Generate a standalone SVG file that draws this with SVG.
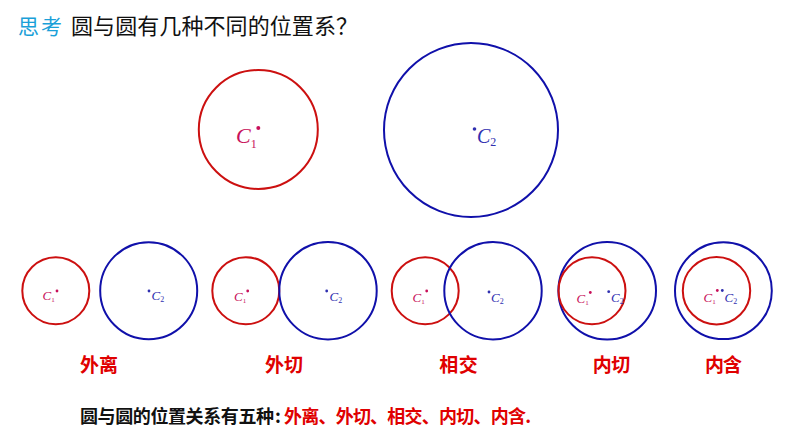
<svg xmlns="http://www.w3.org/2000/svg" width="794" height="447" viewBox="0 0 794 447">
<style>
.r{fill:none;stroke:#cc1010;stroke-width:2}
.b{fill:none;stroke:#1010aa;stroke-width:2}
.c1{fill:#c8105a;font-family:"Liberation Serif",serif;font-style:italic}
.c2{fill:#3030b0;font-family:"Liberation Serif",serif;font-style:italic}
.sub{font-style:normal}
.d1{fill:#c8105a}
.d2{fill:#3030b0}
.lab{fill:#e00000;font-family:"Noto Sans CJK SC",sans-serif;font-weight:bold;font-size:19px}
.cjk{font-family:"Noto Sans CJK SC",sans-serif}
</style>
<rect width="794" height="447" fill="#ffffff"/>
<g id="title">
<text x="18" y="33.5" class="cjk" font-size="21" fill="#1aa0d8" textLength="44">思考</text>
<text x="71" y="33.5" class="cjk" font-size="22" fill="#111111" textLength="287">圆与圆有几种不同的位置系？</text>
</g>
<g id="top-c1">
<circle class="r" cx="258.3" cy="129.5" r="59.5"/>
<circle class="d1" cx="258.3" cy="128" r="2"/>
<text class="c1" x="236" y="143" font-size="22">C<tspan class="sub" font-size="12" dy="5">1</tspan></text>
</g>
<g id="top-c2">
<circle class="b" cx="471" cy="130" r="87"/>
<circle class="d2" cx="474.5" cy="129" r="1.8"/>
<text class="c2" x="477" y="143" font-size="20">C<tspan class="sub" font-size="12" dy="3">2</tspan></text>
</g>
<g id="waili">
<circle class="r" cx="55.8" cy="290.7" r="33.5"/>
<circle class="b" cx="148.7" cy="290.7" r="48.5"/>
<circle class="d1" cx="57" cy="291" r="1.4"/>
<circle class="d2" cx="149" cy="291" r="1.4"/>
<text class="c1" x="42.5" y="300" font-size="13">C<tspan class="sub" font-size="7" dy="2">1</tspan></text>
<text class="c2" x="151.5" y="300" font-size="13">C<tspan class="sub" font-size="8" dy="2">2</tspan></text>
<text class="lab" x="80" y="372" textLength="38">外离</text>
</g>
<g id="waiqie">
<circle class="r" cx="245.8" cy="290.7" r="33.5"/>
<circle class="b" cx="328" cy="290.7" r="48.7"/>
<circle class="d1" cx="247.7" cy="291" r="1.4"/>
<circle class="d2" cx="326.7" cy="291" r="1.4"/>
<text class="c1" x="234" y="301" font-size="13">C<tspan class="sub" font-size="7" dy="2">1</tspan></text>
<text class="c2" x="329.5" y="301" font-size="13">C<tspan class="sub" font-size="8" dy="2">2</tspan></text>
<text class="lab" x="265" y="372" textLength="38">外切</text>
</g>
<g id="xiangjiao">
<circle class="r" cx="425.2" cy="290.7" r="33.5"/>
<circle class="b" cx="493" cy="290.7" r="48.7"/>
<circle class="d1" cx="426.7" cy="291" r="1.4"/>
<circle class="d2" cx="489" cy="292" r="1.4"/>
<text class="c1" x="412.5" y="301.5" font-size="13">C<tspan class="sub" font-size="7" dy="2">1</tspan></text>
<text class="c2" x="491" y="302" font-size="13">C<tspan class="sub" font-size="8" dy="2">2</tspan></text>
<text class="lab" x="439.3" y="372" textLength="38.4">相交</text>
</g>
<g id="neiqie">
<circle class="b" cx="607.2" cy="290.7" r="48.8"/>
<circle class="r" cx="592" cy="290.7" r="33.5"/>
<circle class="d1" cx="590.3" cy="292.5" r="1.4"/>
<circle class="d2" cx="608.7" cy="291.7" r="1.4"/>
<text class="c1" x="576.5" y="303" font-size="13">C<tspan class="sub" font-size="7" dy="2">1</tspan></text>
<text class="c2" x="611" y="302" font-size="13">C<tspan class="sub" font-size="8" dy="2">2</tspan></text>
<text class="lab" x="592.7" y="372" textLength="37.5">内切</text>
</g>
<g id="neihan">
<circle class="b" cx="723.4" cy="290.7" r="48.4"/>
<circle class="r" cx="716.5" cy="290.7" r="33.7"/>
<circle class="d1" cx="717.3" cy="290.5" r="1.4"/>
<circle class="d2" cx="722.3" cy="290.5" r="1.4"/>
<text class="c1" x="703.5" y="301.5" font-size="13">C<tspan class="sub" font-size="7" dy="2">1</tspan></text>
<text class="c2" x="724.5" y="301.5" font-size="13">C<tspan class="sub" font-size="8" dy="2">2</tspan></text>
<text class="lab" x="705" y="372" textLength="37">内含</text>
</g>
<g id="connectors"/>
<g id="summary">
<text x="80" y="423" class="cjk" font-size="18" font-weight="bold" fill="#111111" textLength="194">圆与圆的位置关系有五种</text>
<text x="275" y="423" class="cjk" font-size="18" font-weight="bold" fill="#111111">:</text>
<text x="284" y="423" class="cjk" font-size="18" font-weight="bold" fill="#e00000" textLength="247">外离、外切、相交、内切、内含.</text>
</g>
</svg>
